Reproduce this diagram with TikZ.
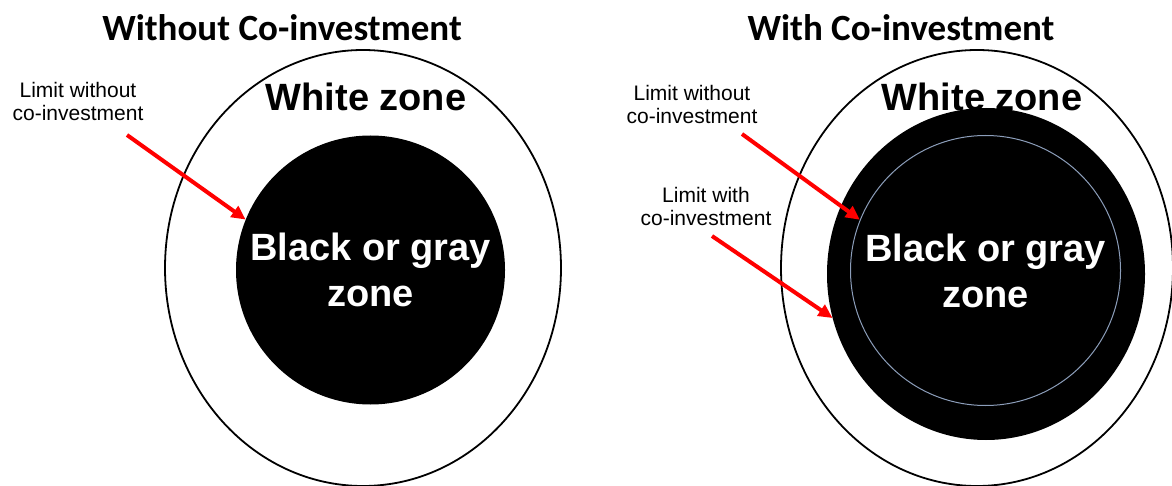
\documentclass[tikz,border=0pt]{standalone}
\usepackage{fontspec}
\setmainfont{Liberation Sans}
\newfontfamily\titlefont{Carlito}
\usetikzlibrary{arrows.meta,shapes.geometric}
\definecolor{limitgray}{RGB}{140,158,186}

\begin{document}
\begin{tikzpicture}[x=1pt,y=-1pt]
  \tikzset{
    TitleStyle/.style={font=\titlefont\bfseries\fontsize{37}{40}\selectfont},
    WhiteStyle/.style={font=\bfseries\fontsize{38}{40}\selectfont},
    ZoneStyle/.style={circle,fill=black,inner sep=0pt,text=white,align=center,
                      font=\bfseries\fontsize{38}{46}\selectfont},
    LimitStyle/.style={align=center,font=\fontsize{21}{23}\selectfont},
    LimitArrow/.style={-{Triangle[length=14pt,width=13pt]},red,line width=4pt}
  }
  \useasboundingbox (0,0) rectangle (1172,486);

  % Without
  \node[TitleStyle] (titleL) at (282,28) {Without Co-investment};
  \draw[line width=1.8pt] (363,268) ellipse [x radius=198pt, y radius=218pt];
  \node[WhiteStyle] (whiteL) at (366,97) {White zone};
  \node[ZoneStyle,minimum size=269pt] (blackL) at (370.5,270) {Black or gray\\zone};
  \node[LimitStyle] (limitL) at (78,101) {Limit without\\co-investment};
  \coordinate (startL) at (127,135);
    \draw[LimitArrow] (startL) -- (blackL.158);

  % With
  \node[TitleStyle] (titleR) at (901,28) {With Co-investment};
  \draw[line width=1.8pt] (977,268) ellipse [x radius=196pt, y radius=218pt];
  \node[WhiteStyle] (whiteR) at (982,97) {White zone};
  \node[ellipse,fill=black,minimum width=318pt,minimum height=332pt,inner sep=0pt]
    (grayR) at (986,274) {};
  \node[ZoneStyle,draw=limitgray,line width=1pt,minimum size=270pt]
    (blackR) at (985.5,270.5) {Black or gray\\zone};
  \node[LimitStyle] (limitR) at (692,104) {Limit without\\co-investment};
  \coordinate (startR) at (742,134);
    \draw[LimitArrow] (startR) -- (blackR.158);
  \node[LimitStyle] (limitC) at (706,206) {Limit with\\co-investment};
  \coordinate (startC) at (712,236);
    \draw[LimitArrow] (startC) -- (grayR.196);
\end{tikzpicture}
\end{document}
